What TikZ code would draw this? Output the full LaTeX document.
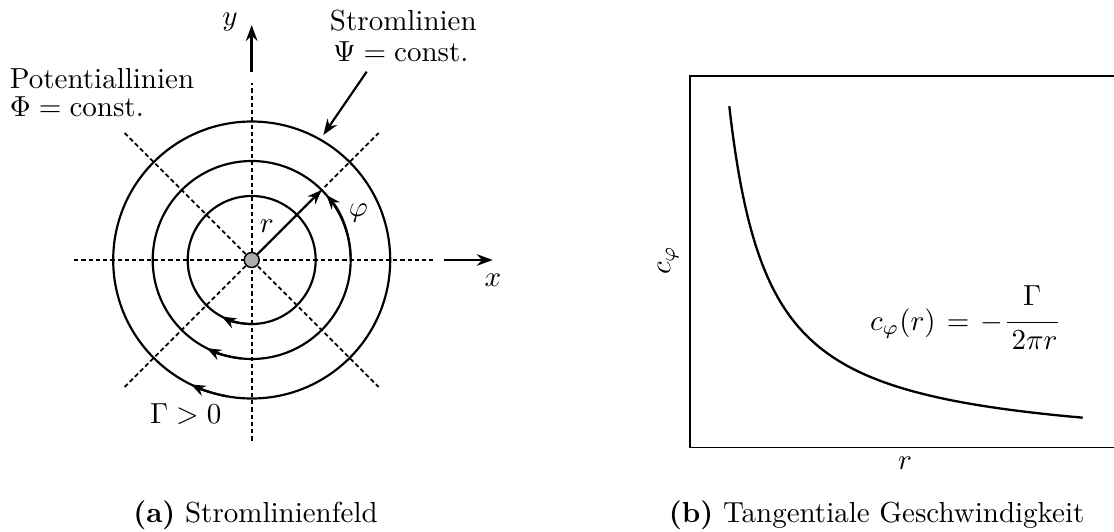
\documentclass[tikz,border=0pt]{standalone}
\usetikzlibrary{arrows.meta,calc}
\begin{document}
\begin{tikzpicture}[x=0.3448pt,y=0.3448pt,
  stream/.style={line width=0.75pt},
  dashline/.style={line width=0.6pt,dash pattern=on 1.5pt off 1pt},
  axisarrow/.style={line width=0.85pt,-{Stealth[length=5.5pt,width=4pt]}},
  midarrow/.style={line width=0.75pt,-{Stealth[length=5pt,width=3.8pt]}},
  lbl/.style={inner sep=0pt,outer sep=0pt},
  frame/.style={line width=0.5pt},
  curve/.style={line width=0.8pt}]
\useasboundingbox (0,0) rectangle (1114,531);
% ---------- left picture ----------
\coordinate (O) at (251.7,271);
\draw[dashline] (O) ++(-177.7,0) coordinate (hl) -- ++(359.3,0) coordinate (hr);
\draw[dashline] (O) ++(0,-180.7) coordinate (vb) -- ++(0,357.7) coordinate (vt);
\draw[dashline] (O) ++(-127,-127) coordinate (d1a) -- ++(254,254) coordinate (d1b);
\draw[dashline] (O) ++(-127,127) coordinate (d2a) -- ++(254,-254) coordinate (d2b);
\coordinate (xs) at (444.3,271);
\coordinate (xe) at (492.7,271);
\draw[axisarrow] (xs) -- (xe);
\coordinate (ys) at (251.7,459.3);
\coordinate (ye) at (251.7,506);
\draw[axisarrow] (ys) -- (ye);
\node[lbl] (xlab) at (493,251) {$x$};
\node[lbl] (ylab) at (230,509.3) {$y$};
% circles
\draw[stream] (O) circle[radius=64];
\draw[stream] (O) circle[radius=99];
\draw[stream] (O) circle[radius=138.5];
% direction arrows on the circles
\draw[midarrow] (O) ++(270:64) arc[start angle=270,end angle=242,radius=64];
\draw[midarrow] (O) ++(264:99) arc[start angle=264,end angle=243,radius=99];
\draw[midarrow] (O) ++(260:138.5) arc[start angle=260,end angle=244,radius=138.5];
% phi arrow
\draw[midarrow] (O) ++(0:99) arc[start angle=0,end angle=41,radius=99];
% r arrow
\coordinate (rt) at ($(O)+(45:99)$);
\draw[midarrow] (O) -- (rt);
% center dot
\node[circle,draw,fill=black!32,line width=0.5pt,minimum size=15*0.3448pt,inner sep=0pt] (ctr) at (O) {};
\node[lbl] (rlab) at (266.7,304.3) {$r$};
\node[lbl] (philab) at (358.3,317.7) {$\varphi$};
% Stromlinien
\node[lbl,anchor=base west] (strom1) at (330,501) {Stromlinien};
\node[lbl,anchor=base west] (strom2) at (333,470) {$\Psi=\mathrm{const.}$};
\coordinate (sa) at (366.7,459.3);
\coordinate (sb) at (323.3,396);
\draw[axisarrow,line width=0.75pt] (sa) -- (sb);
% Potentiallinien
\node[lbl,anchor=base west] (pot1) at (10,442.7) {Potentiallinien};
\node[lbl,anchor=base west] (pot2) at (10,414.3) {$\Phi=\mathrm{const.}$};
\node[lbl,anchor=base west] (gam) at (150,107.7) {$\Gamma>0$};
% caption a
\node[lbl,anchor=base west] (capa) at (133.3,9) {\textbf{(a)} Stromlinienfeld};
% ---------- right picture ----------
\coordinate (bl) at (690,83.7);
\coordinate (tr) at (1120,455);
\draw[frame] (1120,83.7) -- (bl) -- (690,455) -- (tr);
\draw[curve] plot[domain=39.3:392.7,samples=160,variable=\u,smooth] ({690+\u},{78.7+13600/\u});
\node[lbl,rotate=90] (cphi) at (668.3,271) {$c_\varphi$};
\node[lbl] (rr) at (905,67.7) {$r$};
\node[lbl,anchor=base west] (form) at (870,201) {$\displaystyle c_\varphi(r)\mkern2mu=\mkern2mu-\frac{\raisebox{1.6pt}{$\Gamma$}}{\,2\pi r}$};
\node[lbl,anchor=base west] (capb) at (669,9) {\textbf{(b)} Tangentiale Geschwindigkeit};
\end{tikzpicture}
\end{document}
